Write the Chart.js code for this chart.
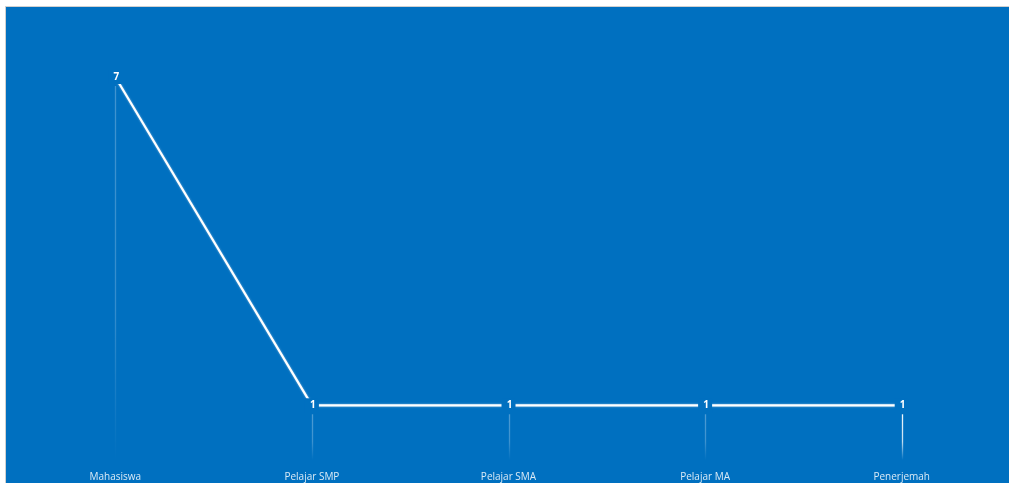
<!DOCTYPE html>
<html><head><meta charset="utf-8">
<script src="https://cdn.jsdelivr.net/npm/chart.js@4.4.0/dist/chart.umd.min.js"></script>
<style>
html,body{margin:0;padding:0;background:#fff;}
#wrap{position:absolute;left:0;top:0;width:1009px;height:483px;}
</style></head>
<body>
<div id="wrap"><canvas id="c" width="1009" height="483"></canvas></div>
<script>
const categories = ["Mahasiswa","Pelajar SMP","Pelajar SMA","Pelajar MA","Penerjemah"];
const values = [7,1,1,1,1];
const dropAlpha = [0.25,0.3,0.3,0.3,0.95];
const BLUE = "#0070C0";

const bgPlugin = {
  id:"bg",
  beforeDraw(chart){
    const ctx = chart.ctx;
    ctx.save();
    ctx.fillStyle="#fff"; ctx.fillRect(0,0,chart.width,chart.height);
    ctx.fillStyle="#d0d0d0"; ctx.fillRect(5,6,chart.width-5,chart.height-6);
    ctx.fillStyle=BLUE; ctx.fillRect(6,7,chart.width-6,chart.height-7);
    ctx.restore();
  }
};
const dropPlugin = {
  id:"drops",
  beforeDatasetsDraw(chart){
    const ctx=chart.ctx, meta=chart.getDatasetMeta(0), y0=chart.scales.y.getPixelForValue(0);
    ctx.save();
    meta.data.forEach((pt,i)=>{
      const top=pt.y+9, bot=y0;
      const g=ctx.createLinearGradient(0,top,0,bot);
      g.addColorStop(0,`rgba(255,255,255,${dropAlpha[i]})`);
      g.addColorStop(0.6,`rgba(255,255,255,${dropAlpha[i]*0.8})`);
      g.addColorStop(1,`rgba(255,255,255,0)`);
      ctx.strokeStyle=g; ctx.lineWidth=1.3;
      ctx.beginPath(); ctx.moveTo(Math.round(pt.x)+0.5,top); ctx.lineTo(Math.round(pt.x)+0.5,bot); ctx.stroke();
    });
    ctx.restore();
  },
  beforeDatasetDraw(chart){
    chart.ctx.save();
    chart.ctx.shadowColor="rgba(255,255,255,0.55)";
    chart.ctx.shadowBlur=2;
  },
  afterDatasetDraw(chart){ chart.ctx.restore(); },
  afterDatasetsDraw(chart){
    const ctx=chart.ctx, meta=chart.getDatasetMeta(0);
    ctx.save();
    ctx.font="bold 10px 'Open Sans'";
    ctx.textAlign="center"; ctx.textBaseline="middle";
    meta.data.forEach((pt,i)=>{
      const t=String(values[i]);
      ctx.fillStyle=BLUE;
      ctx.fillRect(pt.x-7,pt.y-7,14,14);
      ctx.fillStyle="#fff";
      ctx.fillText(t,pt.x+1,pt.y);
    });
    ctx.restore();
  }
};

new Chart(document.getElementById("c"),{
  type:"line",
  data:{labels:categories,datasets:[{data:values,borderColor:"#fff",borderWidth:2.2,pointRadius:0,tension:0,clip:false}]},
  options:{
    responsive:false,animation:false,
    layout:{padding:{top:77,left:17,right:9,bottom:0}},
    plugins:{legend:{display:false},tooltip:{enabled:false}},
    scales:{
      x:{offset:true,grid:{display:false,drawTicks:false},border:{display:false},
         ticks:{color:"rgba(255,255,255,0.85)",font:{family:"'Open Sans'",size:10},padding:11,maxRotation:0},
         afterFit(s){s.height=23;}},
      y:{display:false,min:0,max:7}
    }
  },
  plugins:[bgPlugin,dropPlugin]
});
</script>
</body></html>
